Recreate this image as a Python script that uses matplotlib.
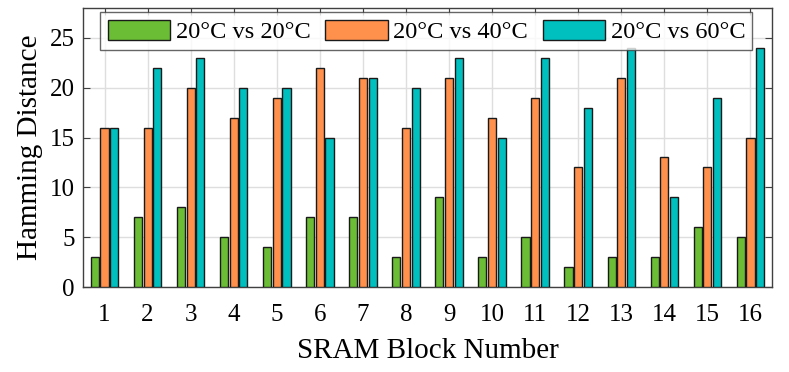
import matplotlib
matplotlib.use("Agg")
import matplotlib.pyplot as plt
import numpy as np

blocks = list(range(1, 17))
green_vals = [3, 7, 8, 5, 4, 7, 7, 3, 9, 3, 5, 2, 3, 3, 6, 5]
orange_vals = [16, 16, 20, 17, 19, 22, 21, 16, 21, 17, 19, 12, 21, 13, 12, 15]
cyan_vals = [16, 22, 23, 20, 20, 15, 21, 20, 23, 15, 23, 18, 24, 9, 19, 24]
labels = ["20°C vs 20°C", "20°C vs 40°C", "20°C vs 60°C"]
colors = ["#6ABD35", "#FF914D", "#00BFBF"]

plt.rcParams['font.family'] = ['Liberation Serif', 'DejaVu Serif']

fig = plt.figure(figsize=(7.89, 3.72), dpi=100)
ax = fig.add_axes([83/789, 1 - 287/372, (772-83)/789, (287-8)/372])

x = np.array(blocks)
offs = [-0.225, 0.0, 0.225]
w = 0.19
for vals, off, c, lab in zip([green_vals, orange_vals, cyan_vals], offs, colors, labels):
    ax.bar(x + off, vals, width=w, color=c, edgecolor="#1a1a1a", linewidth=1.0,
           label=lab, zorder=3)

ax.set_xlim(0.5, 16.5)
ax.set_ylim(0, 28)
ax.set_xticks(blocks)
ax.set_yticks([0, 5, 10, 15, 20, 25])
ax.grid(True, color="#dedede", linewidth=1.0, zorder=0)
ax.set_axisbelow(True)
ax.tick_params(direction='in', top=True, right=True, labelsize=18, length=5,
               color="#404040")
ax.tick_params(axis='x', pad=12)
ax.tick_params(axis='y', pad=6)
for s in ax.spines.values():
    s.set_color("#404040")
    s.set_linewidth(1.0)
ax.set_xlabel("SRAM Block Number", fontsize=21, labelpad=9)
ax.set_ylabel("Hamming Distance", fontsize=21, labelpad=5)

leg = ax.legend(loc='upper center', bbox_to_anchor=(0.4985, 0.985), ncol=3,
                fontsize=17.6, frameon=True, fancybox=False, handlelength=2.56,
                handleheight=0.9, handletextpad=0.22, columnspacing=0.6,
                borderpad=0.3, borderaxespad=0.0)
leg.get_frame().set_edgecolor("#404040")
leg.get_frame().set_linewidth(1.0)
leg.set_zorder(10)

fig.savefig("out.png", dpi=100)
